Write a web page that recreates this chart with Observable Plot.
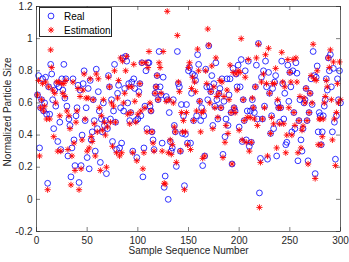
<!DOCTYPE html>
<html>
<head>
<meta charset="utf-8">
<script src="https://cdn.jsdelivr.net/npm/d3@7"></script>
<script src="https://cdn.jsdelivr.net/npm/@observablehq/plot@0.6"></script>
<style>
  html, body { margin: 0; padding: 0; background: #fff; }
  #wrap { position: relative; width: 349px; height: 262px; font-family: "Liberation Sans", Arial, sans-serif; }
  #legend { position: absolute; left: 39px; top: 7px; width: 73px; height: 30px; background: #fff; border: 1px solid #262626; box-sizing: border-box; font-size: 10px; color: #000; }
  #legend .row { position: absolute; left: 0; height: 14px; display: flex; align-items: center; }
  #legend svg { margin-left: 7px; margin-right: 9px; }
</style>
</head>
<body>
<div id="wrap"></div>
<script>
// Real values, sample 1..300
const realValues = [
  0.65, 0.77, 0.32, 0.57, 0.62, 0.75, 0.55, 0.60, 0.76, 0.53,
  0.10, 0.70, 0.53, 0.84, 0.78, 0.62, 0.44, 0.68, 0.58, 0.72,
  0.36, 0.70, 0.48, 0.31, 0.75, 0.68, 0.84, 0.63, 0.75, 0.58,
  0.27, 0.50, 0.46, 0.14, 0.32, 0.75, 0.37, 0.21, 0.52, 0.57,
  0.71, 0.105, 0.68, 0.21, 0.40, 0.72, 0.80, 0.49, 0.57, 0.26,
  0.69, 0.19, 0.74, 0.37, 0.42, 0.62, 0.49, 0.30, 0.81, 0.44,
  0.67, 0.55, 0.23, 0.50, 0.42, 0.60, 0.46, 0.49, 0.16, 0.44,
  0.77, 0.70, 0.50, 0.62, 0.36, 0.55, 0.84, 0.48, 0.31, 0.66,
  0.71, 0.32, 0.57, 0.35, 0.88, 0.55, 0.69, 0.89, 0.86, 0.60,
  0.72, 0.49, 0.54, 0.73, 0.30, 0.75, 0.69, 0.49, 0.26, 0.50,
  0.67, 0.72, 0.52, 0.85, 0.14, 0.32, 0.58, 0.80, 0.44, 0.85,
  0.85, 0.58, 0.55, 0.42, 0.37, 0.31, 0.66, 0.70, 0.77, 0.62,
  0.92, 0.70, 0.65, 0.35, 0.76, 0.075, 0.145, 0.64, 0.62, 0.00,
  0.54, 0.36, 0.30, 0.32, 0.62, 0.46, 0.42, 0.205, 0.92, 0.72,
  0.70, 0.30, 0.59, 0.41, 0.52, 0.085, 0.405, 0.59, 0.35, 0.80,
  0.82, 0.35, 0.66, 0.78, 0.49, 0.77, 0.74, 0.52, 0.90, 0.84,
  0.61, 0.49, 0.57, 0.21, 0.52, 0.27, 0.81, 0.70, 0.62, 0.955,
  0.70, 0.67, 0.77, 0.46, 0.72, 0.58, 0.85, 0.62, 0.50, 0.66,
  0.69, 0.57, 0.75, 0.28, 0.61, 0.39, 0.50, 0.75, 0.46, 0.65,
  0.75, 0.54, 0.22, 0.815, 0.57, 0.55, 0.78, 0.70, 0.835, 0.45,
  0.70, 0.87, 0.36, 0.62, 0.49, 0.80, 0.37, 0.55, 0.86, 0.33,
  0.55, 0.355, 0.62, 0.57, 0.54, 0.70, 0.835, 0.50, 0.97, 0.04,
  0.255, 0.76, 0.50, 0.80, 0.58, 0.86, 0.70, 0.25, 0.79, 0.66,
  0.41, 0.52, 0.69, 0.44, 0.73, 0.77, 0.27, 0.60, 0.57, 0.48,
  0.57, 0.86, 0.72, 0.50, 0.66, 0.34, 0.355, 0.835, 0.61, 0.79,
  0.70, 0.42, 0.80, 0.54, 0.44, 0.85, 0.785, 0.24, 0.49, 0.62,
  0.37, 0.30, 0.44, 0.60, 0.62, 0.69, 0.49, 0.24, 0.54, 0.66,
  0.75, 0.59, 0.92, 0.77, 0.16, 0.76, 0.83, 0.42, 0.54, 0.52,
  0.34, 0.42, 0.52, 0.58, 0.62, 0.75, 0.68, 0.88, 0.80, 0.90,
  0.70, 0.42, 0.815, 0.48, 0.25, 0.52, 0.75, 0.62, 0.80, 0.60
];
// Estimated values, sample 1..300
const estimationValues = [
  0.65, 0.74, 0.27, 0.57, 0.62, 0.72, 0.55, 0.58, 0.73, 0.50,
  0.06, 0.70, 0.50, 0.93, 0.82, 0.68, 0.39, 0.66, 0.60, 0.73,
  0.30, 0.73, 0.52, 0.30, 0.72, 0.66, 0.72, 0.64, 0.74, 0.55,
  0.31, 0.52, 0.44, 0.09, 0.27, 0.73, 0.35, 0.18, 0.48, 0.55,
  0.69, 0.06, 0.64, 0.19, 0.37, 0.68, 0.78, 0.50, 0.63, 0.30,
  0.63, 0.32, 0.75, 0.39, 0.36, 0.62, 0.47, 0.27, 0.78, 0.42,
  0.75, 0.57, 0.18, 0.52, 0.43, 0.62, 0.48, 0.40, 0.20, 0.45,
  0.76, 0.70, 0.48, 0.60, 0.33, 0.58, 0.80, 0.48, 0.29, 0.63,
  0.74, 0.27, 0.88, 0.29, 0.86, 0.60, 0.66, 0.80, 0.89, 0.53,
  0.70, 0.47, 0.54, 0.70, 0.29, 0.84, 0.61, 0.48, 0.24, 0.53,
  0.65, 0.72, 0.55, 0.85, 0.19, 0.29, 0.57, 0.85, 0.42, 0.82,
  0.92, 0.60, 0.55, 0.42, 0.35, 0.30, 0.66, 0.70, 0.77, 0.62,
  0.85, 0.82, 0.66, 0.30, 0.92, 0.10, 0.095, 0.61, 1.17, 0.29,
  0.62, 0.37, 0.28, 0.34, 0.60, 0.45, 0.42, 0.23, 1.02, 0.73,
  0.67, 0.30, 0.54, 0.42, 0.49, 0.06, 0.42, 0.54, 0.34, 0.82,
  0.85, 0.31, 0.69, 0.76, 0.49, 0.73, 0.67, 0.55, 0.935, 0.80,
  0.61, 0.42, 0.54, 0.255, 0.55, 0.27, 0.80, 0.72, 1.06, 0.96,
  0.60, 0.67, 0.83, 0.44, 0.70, 0.57, 0.88, 0.64, 0.51, 0.66,
  0.74, 0.57, 0.73, 0.26, 0.64, 0.355, 0.46, 0.68, 0.41, 0.62,
  0.835, 0.54, 0.22, 0.79, 0.57, 0.54, 0.78, 0.68, 0.80, 0.43,
  0.79, 1.00, 0.37, 0.62, 0.49, 0.76, 0.355, 0.51, 0.87, 0.30,
  0.51, 0.355, 0.63, 0.57, 0.50, 0.70, 0.88, 0.46, 0.965, -0.05,
  0.23, 0.73, 0.50, 0.78, 0.57, 0.90, 0.72, 0.27, 0.94, 0.66,
  0.41, 0.51, 0.72, 0.47, 0.72, 0.815, 0.32, 0.62, 0.57, 0.47,
  0.57, 0.915, 0.73, 0.47, 0.70, 0.29, 0.40, 0.87, 0.57, 0.79,
  0.73, 0.40, 0.87, 0.54, 0.46, 0.88, 0.73, 0.29, 0.49, 0.64,
  0.32, 0.43, 0.455, 0.63, 0.60, 0.69, 0.49, 0.22, 0.54, 0.66,
  0.77, 0.60, 0.965, 0.75, 0.13, 0.74, 0.80, 0.34, 0.50, 0.50,
  0.34, 0.39, 0.50, 0.60, 0.64, 0.74, 0.70, 0.88, 0.82, 0.93,
  0.62, 0.37, 0.855, 0.50, 0.21, 0.54, 0.72, 0.60, 0.855, 0.62
];
const seriesNames = ["Real", "Estimation"];
const xTicks = [0, 50, 100, 150, 200, 250, 300];
const yTicks = [-0.2, 0, 0.2, 0.4, 0.6, 0.8, 1, 1.2];
const yTickLabels = ["-0.2", "0", "0.2", "0.4", "0.6", "0.8", "1", "1.2"];
const xTitle = "Sample Sequence Number";
const yTitle = "Normalized Particle Size";

const realData = realValues.map((v, i) => ({sample: i + 1, value: v}));
const estData = estimationValues.map((v, i) => ({sample: i + 1, value: v}));

// MATLAB-style '*' marker (plus + cross)
const star = {
  draw(ctx, size) {
    const r = Math.sqrt(size / Math.PI);
    const d = r * Math.SQRT1_2;
    ctx.moveTo(-r, 0); ctx.lineTo(r, 0);
    ctx.moveTo(0, -r); ctx.lineTo(0, r);
    ctx.moveTo(-d, -d); ctx.lineTo(d, d);
    ctx.moveTo(-d, d); ctx.lineTo(d, -d);
  }
};

const axisColor = "#262626";
const tx = 4 * 300 / 304;   // inward tick length in x units
const ty = 4 * 1.4 / 225;   // inward tick length in y units
const fmtY = (d) => yTickLabels[yTicks.findIndex(t => Math.abs(t - d) < 1e-9)];

const chart = Plot.plot({
  width: 349,
  height: 262,
  marginLeft: 36,
  marginRight: 9,
  marginTop: 6,
  marginBottom: 31,
  style: {fontFamily: "'Liberation Sans', Arial, sans-serif", fontSize: "10px", color: axisColor, background: "#fff"},
  x: {domain: [0, 300], ticks: xTicks, label: null},
  y: {domain: [-0.2, 1.2], ticks: yTicks, label: null, tickFormat: fmtY},
  marks: [
    Plot.axisX({ticks: xTicks, tickSize: 0, tickPadding: 5, fontSize: 10, color: axisColor, label: null}),
    Plot.axisY({ticks: yTicks, tickSize: 0, tickPadding: 4, fontSize: 10, color: axisColor, label: null, tickFormat: fmtY}),
    Plot.ruleX(xTicks, {x: d => d, y1: -0.2, y2: -0.2 + ty, stroke: axisColor, strokeWidth: 0.6}),
    Plot.ruleX(xTicks, {x: d => d, y1: 1.2, y2: 1.2 - ty, stroke: axisColor, strokeWidth: 0.6}),
    Plot.ruleY(yTicks, {y: d => d, x1: 0, x2: tx, stroke: axisColor, strokeWidth: 0.6}),
    Plot.ruleY(yTicks, {y: d => d, x1: 300, x2: 300 - tx, stroke: axisColor, strokeWidth: 0.6}),
    Plot.dot(realData, {x: "sample", y: "value", r: 2.9, stroke: "#0000ff", strokeWidth: 0.8, fill: "none"}),
    Plot.dot(estData, {x: "sample", y: "value", r: 3.1, symbol: star, stroke: "#ff0000", strokeWidth: 0.9, fill: "none"}),
    Plot.frame({stroke: axisColor, strokeWidth: 0.7}),
    Plot.text([xTitle], {frameAnchor: "bottom", dy: 22, text: d => d, fontSize: 10, fill: axisColor}),
    Plot.text([yTitle], {frameAnchor: "left", textAnchor: "middle", dx: -29, dy: -7, rotate: -90, text: d => d, fontSize: 10, fill: axisColor})
  ]
});

const wrap = document.getElementById("wrap");
wrap.appendChild(chart);

// Legend box (MATLAB style, upper left inside axes)
const legend = document.createElement("div");
legend.id = "legend";
const circleIcon = `<svg width="8" height="8" viewBox="-4 -4 8 8"><circle r="2.9" fill="none" stroke="#0000ff" stroke-width="0.8"/></svg>`;
const starIcon = `<svg width="8" height="8" viewBox="-4 -4 8 8"><path d="M-3.1,0L3.1,0M0,-3.1L0,3.1M-2.2,-2.2L2.2,2.2M-2.2,2.2L2.2,-2.2" stroke="#ff0000" stroke-width="0.9" fill="none"/></svg>`;
legend.innerHTML =
  `<div class="row" style="top:1px">${circleIcon}<span>${seriesNames[0]}</span></div>` +
  `<div class="row" style="top:15px">${starIcon}<span>${seriesNames[1]}</span></div>`;
wrap.appendChild(legend);
</script>
</body>
</html>
